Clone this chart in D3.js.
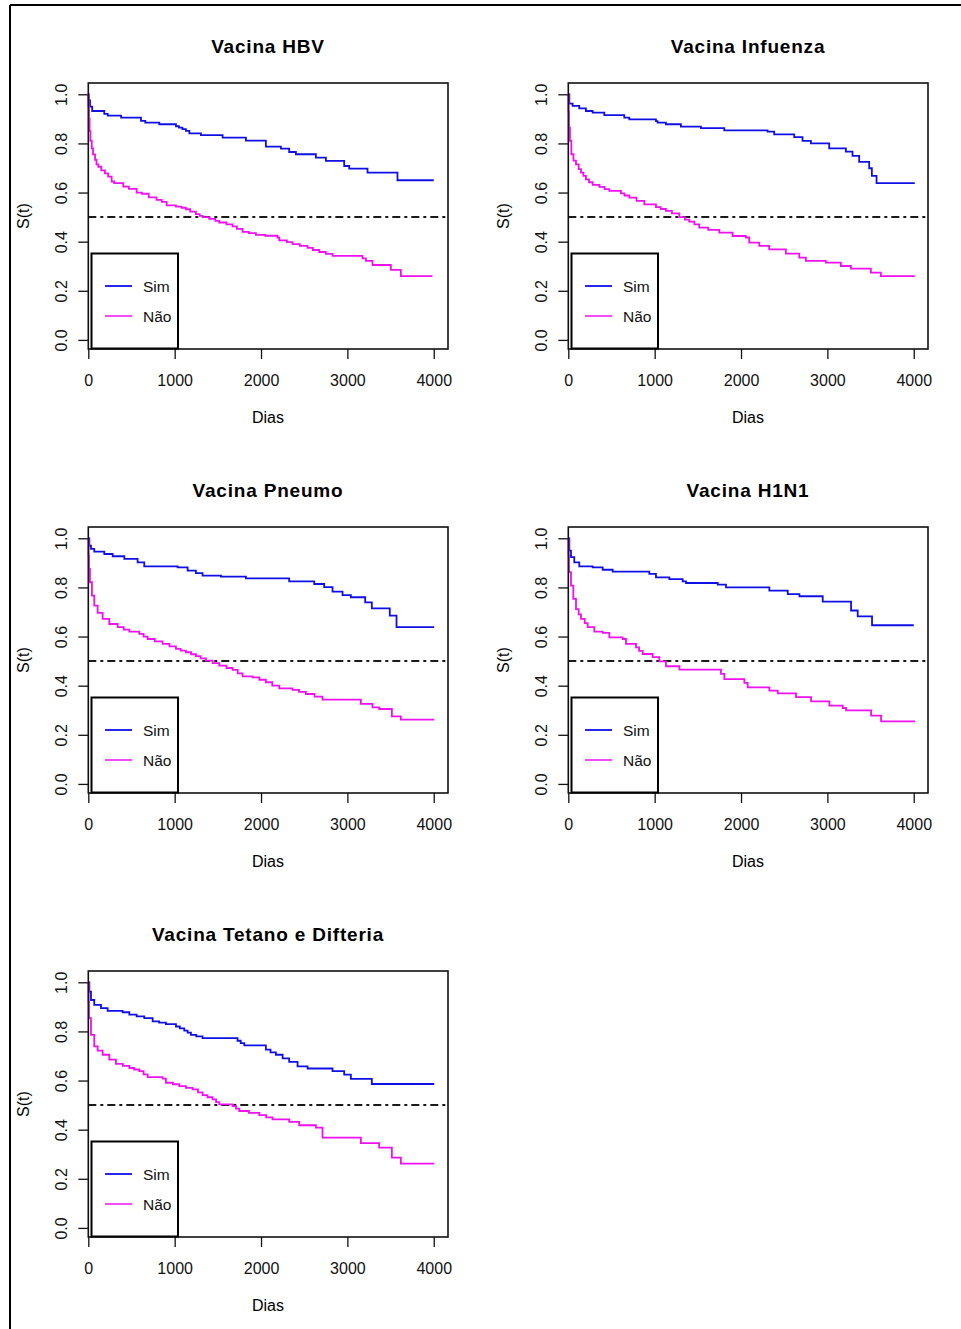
<!DOCTYPE html>
<html>
<head>
<meta charset="utf-8">
<script src="https://cdn.jsdelivr.net/npm/d3@7"></script>
<style>
  body { margin: 0; background: #fff; }
  svg { display: block; font-family: "Liberation Sans", Arial, sans-serif; }
</style>
</head>
<body>
<svg id="chart" width="961" height="1329"></svg>
<script>
// Kaplan-Meier estimates: [dias, S(t)]
var hbvSim = [[0,1.0],[5,0.975],[20,0.95],[45,0.932],[185,0.92],[225,0.913],[380,0.905],[610,0.892],[660,0.885],[822,0.878],[1015,0.87],[1050,0.864],[1090,0.858],[1130,0.851],[1170,0.841],[1304,0.834],[1555,0.824],[1825,0.811],[2056,0.787],[2230,0.779],[2326,0.765],[2404,0.756],[2635,0.742],[2751,0.729],[2963,0.708],[3021,0.697],[3233,0.681],[3580,0.650],[4000,0.650]];
var hbvNao = [[0,1.0],[3,0.95],[8,0.9],[15,0.85],[25,0.81],[40,0.78],[55,0.755],[78,0.733],[95,0.715],[116,0.705],[150,0.69],[193,0.678],[230,0.665],[270,0.645],[300,0.638],[405,0.624],[470,0.615],[560,0.6],[620,0.595],[700,0.58],[790,0.57],[850,0.562],[907,0.548],[1015,0.543],[1080,0.538],[1130,0.532],[1180,0.522],[1246,0.512],[1290,0.505],[1323,0.5],[1400,0.493],[1470,0.485],[1516,0.478],[1600,0.47],[1671,0.462],[1720,0.452],[1786,0.44],[1860,0.435],[1941,0.428],[2050,0.424],[2191,0.417],[2211,0.405],[2300,0.398],[2365,0.39],[2450,0.383],[2539,0.375],[2600,0.366],[2674,0.358],[2750,0.35],[2828,0.342],[3175,0.332],[3214,0.322],[3291,0.305],[3503,0.285],[3619,0.26],[3985,0.26]];

var fluSim = [[0,1.0],[12,0.962],[50,0.953],[127,0.943],[204,0.932],[282,0.925],[417,0.915],[648,0.905],[706,0.898],[1015,0.891],[1034,0.885],[1130,0.878],[1304,0.868],[1536,0.862],[1806,0.853],[2307,0.848],[2384,0.837],[2616,0.826],[2712,0.81],[2809,0.8],[3021,0.78],[3214,0.767],[3291,0.749],[3368,0.725],[3484,0.699],[3515,0.668],[3569,0.638],[4012,0.638]];
var fluNao = [[0,1.0],[4,0.93],[8,0.864],[19,0.81],[35,0.756],[60,0.73],[89,0.715],[120,0.695],[147,0.681],[175,0.668],[204,0.654],[240,0.642],[282,0.631],[359,0.623],[420,0.614],[475,0.607],[610,0.597],[650,0.588],[706,0.579],[790,0.566],[880,0.552],[1015,0.541],[1070,0.533],[1130,0.525],[1200,0.515],[1285,0.5],[1350,0.49],[1400,0.482],[1460,0.47],[1516,0.457],[1620,0.448],[1748,0.437],[1902,0.423],[2056,0.417],[2095,0.396],[2211,0.383],[2326,0.369],[2519,0.351],[2674,0.335],[2751,0.322],[2982,0.315],[3156,0.301],[3272,0.29],[3503,0.274],[3619,0.26],[4012,0.26]];

var pneSim = [[0,1.0],[12,0.97],[31,0.957],[69,0.946],[185,0.936],[282,0.927],[417,0.916],[571,0.902],[648,0.886],[1034,0.882],[1150,0.868],[1246,0.858],[1323,0.848],[1536,0.844],[1825,0.837],[2326,0.825],[2616,0.814],[2731,0.801],[2828,0.783],[2944,0.769],[3040,0.76],[3206,0.739],[3283,0.715],[3491,0.685],[3569,0.638],[4005,0.638]];
var pneNao = [[0,1.0],[4,0.93],[8,0.875],[19,0.821],[42,0.767],[69,0.726],[108,0.696],[166,0.672],[243,0.651],[340,0.638],[410,0.628],[475,0.62],[590,0.611],[640,0.6],[687,0.59],[770,0.58],[860,0.57],[940,0.56],[1015,0.55],[1070,0.543],[1130,0.536],[1190,0.528],[1246,0.52],[1300,0.511],[1362,0.502],[1440,0.492],[1516,0.482],[1600,0.472],[1671,0.464],[1730,0.45],[1786,0.438],[1902,0.434],[1980,0.424],[2056,0.414],[2130,0.4],[2211,0.389],[2365,0.383],[2440,0.375],[2519,0.366],[2620,0.355],[2712,0.343],[3156,0.326],[3291,0.312],[3368,0.305],[3515,0.275],[3619,0.262],[4005,0.262]];

var h1nSim = [[0,1.0],[12,0.95],[31,0.923],[69,0.902],[127,0.886],[282,0.882],[398,0.872],[514,0.864],[938,0.855],[1015,0.841],[1170,0.834],[1324,0.825],[1363,0.818],[1730,0.811],[1826,0.8],[2328,0.787],[2541,0.773],[2676,0.764],[2946,0.742],[3274,0.706],[3351,0.682],[3517,0.646],[4000,0.646]];
var h1nNao = [[0,1.0],[4,0.93],[8,0.862],[31,0.807],[58,0.753],[89,0.712],[120,0.69],[147,0.672],[190,0.655],[224,0.638],[301,0.62],[398,0.615],[475,0.597],[629,0.59],[668,0.57],[784,0.556],[820,0.542],[861,0.529],[977,0.516],[1054,0.499],[1131,0.479],[1286,0.465],[1768,0.448],[1807,0.427],[2039,0.411],[2077,0.393],[2328,0.38],[2425,0.369],[2637,0.353],[2811,0.336],[3023,0.319],[3178,0.309],[3216,0.299],[3506,0.278],[3622,0.255],[4015,0.255]];

var tdSim = [[0,1.0],[12,0.962],[31,0.928],[69,0.908],[147,0.895],[224,0.884],[397,0.878],[475,0.868],[560,0.861],[648,0.854],[745,0.841],[820,0.836],[899,0.83],[1015,0.82],[1060,0.812],[1111,0.803],[1150,0.795],[1188,0.786],[1250,0.78],[1323,0.773],[1728,0.762],[1765,0.752],[1806,0.743],[2056,0.726],[2110,0.715],[2172,0.705],[2250,0.69],[2326,0.676],[2423,0.658],[2539,0.649],[2828,0.638],[2963,0.624],[3040,0.607],[3283,0.586],[4005,0.586]];
var tdNao = [[0,1.0],[4,0.92],[8,0.854],[31,0.786],[69,0.739],[108,0.722],[166,0.705],[243,0.685],[320,0.668],[400,0.66],[475,0.651],[530,0.645],[590,0.638],[640,0.625],[687,0.614],[860,0.608],[899,0.591],[980,0.585],[1053,0.577],[1130,0.57],[1208,0.564],[1270,0.552],[1323,0.541],[1380,0.532],[1439,0.523],[1480,0.512],[1516,0.503],[1671,0.496],[1710,0.486],[1748,0.476],[1860,0.468],[1979,0.459],[2060,0.45],[2133,0.442],[2326,0.432],[2442,0.418],[2635,0.408],[2712,0.368],[3156,0.345],[3368,0.327],[3515,0.286],[3619,0.262],[4005,0.262]];

var titles = ["Vacina HBV", "Vacina Infuenza", "Vacina Pneumo", "Vacina H1N1", "Vacina Tetano e Difteria"];
var simSeries = [hbvSim, fluSim, pneSim, h1nSim, tdSim];
var naoSeries = [hbvNao, fluNao, pneNao, h1nNao, tdNao];
var groups = ["Sim", "Não"];
var xTicks = [0, 1000, 2000, 3000, 4000];
var yTicks = [0, 0.2, 0.4, 0.6, 0.8, 1.0];

var colorSim = "#1010e6",
    colorNao = "#f010f0",
    cellW = 480,
    cellH = 444;

var svg = d3.select("#chart");

// outer frame (top and left only)
svg.append("line").attr("x1", 10).attr("x2", 961).attr("y1", 5).attr("y2", 5)
    .attr("stroke", "#000").attr("stroke-width", 2);
svg.append("line").attr("x1", 10).attr("x2", 10).attr("y1", 5).attr("y2", 1329)
    .attr("stroke", "#000").attr("stroke-width", 2);

var x = d3.scaleLinear().domain([0, 4165]).range([88.3, 448]);
var y = d3.scaleLinear().domain([-0.037, 1.046]).range([349, 83]);

var line = d3.line()
    .x(function(d) { return x(d[0]); })
    .y(function(d) { return y(d[1]); })
    .curve(d3.curveStepAfter);

titles.forEach(function(title, i) {
  var g = svg.append("g")
      .attr("transform", "translate(" + (i % 2) * cellW + "," + Math.floor(i / 2) * cellH + ")");

  g.append("text")
      .attr("x", 268).attr("y", 53)
      .attr("text-anchor", "middle")
      .attr("font-size", 19).attr("font-weight", "bold")
      .attr("letter-spacing", 0.8)
      .text(title);

  // axes
  var xa = g.append("g").attr("transform", "translate(0,349)")
      .call(d3.axisBottom(x).tickValues(xTicks).tickSize(10).tickSizeOuter(0).tickFormat(d3.format("d")));
  xa.select(".domain").remove();
  xa.selectAll("text").attr("y", 37).attr("dy", 0).attr("font-size", 16).attr("fill", "#111");
  xa.selectAll("line").attr("stroke", "#111").attr("stroke-width", 1.3);

  var ya = g.append("g").attr("transform", "translate(88.3,0)")
      .call(d3.axisLeft(y).tickValues(yTicks).tickSize(10).tickSizeOuter(0).tickFormat(d3.format(".1f")));
  ya.select(".domain").remove();
  ya.selectAll("text")
      .attr("transform", "rotate(-90)")
      .attr("x", 0).attr("y", -21.5).attr("dy", 0)
      .attr("text-anchor", "middle")
      .attr("font-size", 16).attr("fill", "#111");
  ya.selectAll("line").attr("stroke", "#111").attr("stroke-width", 1.3);

  g.append("text")
      .attr("x", 268).attr("y", 423)
      .attr("text-anchor", "middle").attr("font-size", 16)
      .text("Dias");
  g.append("text")
      .attr("transform", "translate(29,216) rotate(-90)")
      .attr("text-anchor", "middle").attr("font-size", 16)
      .text("S(t)");

  // median reference
  g.append("line")
      .attr("x1", 88.3).attr("x2", 448)
      .attr("y1", y(0.5)).attr("y2", y(0.5))
      .attr("stroke", "#1a1a1a").attr("stroke-width", 2)
      .attr("stroke-dasharray", "8,4,3,4");

  g.append("path").datum(simSeries[i])
      .attr("d", line).attr("fill", "none")
      .attr("stroke", colorSim).attr("stroke-width", 1.8);
  g.append("path").datum(naoSeries[i])
      .attr("d", line).attr("fill", "none")
      .attr("stroke", colorNao).attr("stroke-width", 1.8);

  // plot box
  g.append("rect")
      .attr("x", 88.3).attr("y", 83)
      .attr("width", 448 - 88.3).attr("height", 349 - 83)
      .attr("fill", "none").attr("stroke", "#111").attr("stroke-width", 1.6);

  // legend
  var lg = g.append("g");
  lg.append("rect")
      .attr("x", 91.5).attr("y", 253.5).attr("width", 86.5).attr("height", 95)
      .attr("fill", "#fff").attr("stroke", "#000").attr("stroke-width", 2);
  groups.forEach(function(name, k) {
    var ly = 286 + k * 30;
    lg.append("line")
        .attr("x1", 105).attr("x2", 132).attr("y1", ly).attr("y2", ly)
        .attr("stroke", k === 0 ? colorSim : colorNao).attr("stroke-width", k === 0 ? 1.8 : 1.5);
    lg.append("text")
        .attr("x", 143).attr("y", ly + 5.5)
        .attr("font-size", 15.5).attr("fill", "#111")
        .text(name);
  });
});
</script>
</body>
</html>
